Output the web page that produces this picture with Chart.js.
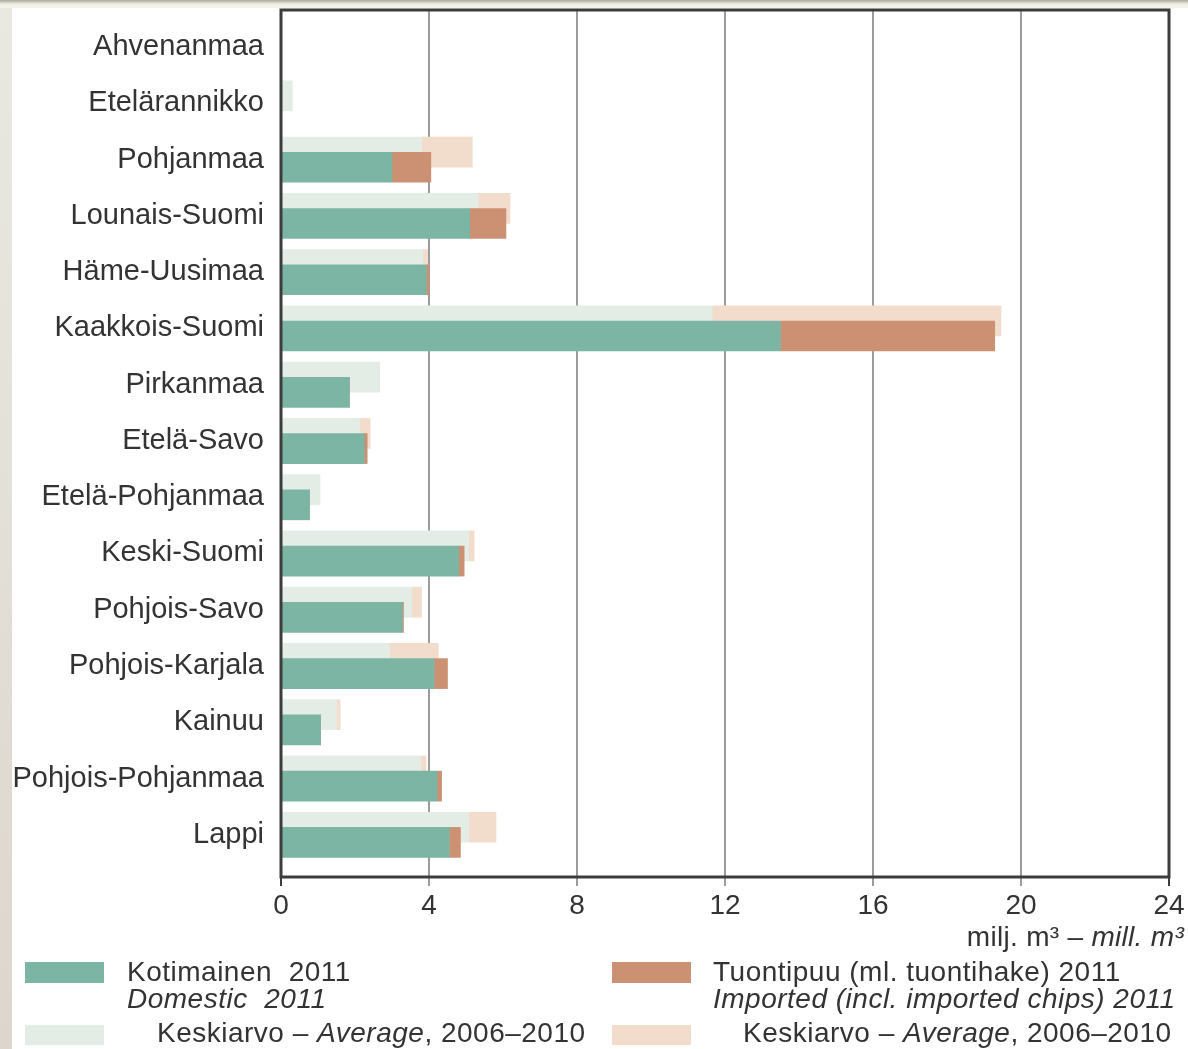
<!DOCTYPE html>
<html>
<head>
<meta charset="utf-8">
<script src="https://cdn.jsdelivr.net/npm/chart.js@4/dist/chart.umd.min.js"></script>
<style>
	body { margin: 0; background: #fff; font-family: "Liberation Sans", Arial, sans-serif; color: #333; }
	#wrap { position: relative; width: 1188px; height: 1049px; overflow: hidden; background: #fff; }
	#leftstrip { position: absolute; left: 0; top: 0; width: 12px; height: 1049px; background: linear-gradient(#e9e9e1, #ddd6cc); }
	#topstrip { position: absolute; left: 0; top: 0; width: 1188px; height: 8px; background: linear-gradient(#a9a898, #eeeee4 50%, #f3f3ea); }
	#chart { position: absolute; left: 0; top: -30px; }
	.sw { position: absolute; width: 79px; height: 21px; }
	.txt { position: absolute; font-size: 28px; letter-spacing: 0.5px; line-height: 27px; white-space: pre; color: #333; }
	#unit { position: absolute; right: 4px; top: 923px; font-size: 28px; letter-spacing: 0.3px; line-height: 28px; color: #333; white-space: pre; }
</style>
</head>
<body>
<div id="wrap">
	<div id="leftstrip"></div>
	<div id="topstrip"></div>
	<canvas id="chart" width="1188" height="1000"></canvas>
	<div id="unit">milj. m³ – <i>mill. m³</i></div>

	<div class="sw" style="left:25px; top:962px; background:#7db5a5"></div>
	<div class="txt" style="left:127px; top:958px">Kotimainen  2011<br><i>Domestic  2011</i></div>
	<div class="sw" style="left:25px; top:1025px; height:20px; background:#e3ede6"></div>
	<div class="txt" style="left:157px; top:1019px">Keskiarvo – <i>Average</i>, 2006–2010</div>

	<div class="sw" style="left:612px; top:962px; background:#cc9173"></div>
	<div class="txt" style="left:713px; top:958px">Tuontipuu (ml. tuontihake) 2011<br><i>Imported (incl. imported chips) 2011</i></div>
	<div class="sw" style="left:612px; top:1025px; height:20px; background:#f2dccc"></div>
	<div class="txt" style="left:743px; top:1019px">Keskiarvo – <i>Average</i>, 2006–2010</div>
</div>
<script>
var regions = ['Ahvenanmaa', 'Etelärannikko', 'Pohjanmaa', 'Lounais-Suomi', 'Häme-Uusimaa', 'Kaakkois-Suomi',
	'Pirkanmaa', 'Etelä-Savo', 'Etelä-Pohjanmaa', 'Keski-Suomi', 'Pohjois-Savo', 'Pohjois-Karjala',
	'Kainuu', 'Pohjois-Pohjanmaa', 'Lappi'];

// milj. m3
var domestic2011 = [0, 0, 3.0, 5.1, 3.93, 13.5, 1.85, 2.25, 0.77, 4.8, 3.28, 4.14, 1.07, 4.22, 4.55];
var imported2011 = [0, 0, 1.05, 0.98, 0.07, 5.79, 0, 0.08, 0, 0.15, 0.03, 0.36, 0, 0.12, 0.3];
var domesticAvg = [0, 0.3, 3.8, 5.33, 3.83, 11.65, 2.66, 2.12, 1.05, 5.07, 3.53, 2.93, 1.5, 3.78, 5.08];
var importedAvg = [0, 0, 1.37, 0.86, 0.13, 7.81, 0, 0.29, 0, 0.15, 0.27, 1.32, 0.1, 0.14, 0.73];

var xTicks = [0, 4, 8, 12, 16, 20, 24];

// average bar sits a bit above the label, 2011 bar a bit below (they overlap)
var shift = 0.135;
function rows(values, offset) {
	return values.map(function (v, i) { return { x: v, y: i + offset }; });
}

var frame = {
	id: 'frame',
	afterDatasetsDraw: function (chart) {
		var a = chart.chartArea;
		var ctx = chart.ctx;
		ctx.save();
		ctx.strokeStyle = '#3c3c3c';
		ctx.lineWidth = 3;
		ctx.strokeRect(a.left, a.top, a.right - a.left, a.bottom - a.top);
		ctx.restore();
	}
};

var ctx = document.getElementById('chart').getContext('2d');
var chart = new Chart(ctx, {
	type: 'bar',
	data: {
		datasets: [{
			label: 'Kotimainen 2011',
			data: rows(domestic2011, shift),
			backgroundColor: '#7db5a5',
			stack: '2011'
		}, {
			label: 'Tuontipuu (ml. tuontihake) 2011',
			data: rows(imported2011, shift),
			backgroundColor: '#cc9173',
			stack: '2011'
		}, {
			label: 'Keskiarvo 2006–2010',
			data: rows(domesticAvg, -shift),
			backgroundColor: '#e3ede6',
			stack: 'avg'
		}, {
			label: 'Keskiarvo 2006–2010 (tuonti)',
			data: rows(importedAvg, -shift),
			backgroundColor: '#f2dccc',
			stack: 'avg'
		}]
	},
	options: {
		indexAxis: 'y',
		responsive: false,
		animation: false,
		datasets: {
			bar: {
				grouped: false,
				barThickness: 30,
				borderWidth: 0
			}
		},
		layout: {
			padding: { top: 40, right: 19, left: 0, bottom: 0 }
		},
		plugins: {
			legend: { display: false },
			tooltip: { enabled: false }
		},
		scales: {
			x: {
				type: 'linear',
				stacked: true,
				bounds: 'data',
				offset: false,
				min: 0,
				max: 24,
				afterBuildTicks: function (scale) {
					scale.ticks = xTicks.map(function (v) { return { value: v }; });
				},
				afterFit: function (scale) {
					scale.height = 93;
				},
				grid: {
					offset: false,
					color: function (c) {
						return (c.tick && (c.tick.value === 0 || c.tick.value === 24)) ? '#3c3c3c' : '#9c9c9c';
					},
					lineWidth: 2,
					tickLength: 9
				},
				border: { display: false },
				ticks: {
					color: '#333',
					padding: 3,
					font: { family: '"Liberation Sans", Arial, sans-serif', size: 28 }
				}
			},
			y: {
				type: 'linear',
				stacked: true,
				reverse: true,
				bounds: 'data',
				offset: false,
				min: -0.66,
				max: 14.75,
				afterBuildTicks: function (scale) {
					scale.ticks = regions.map(function (r, i) { return { value: i }; });
				},
				afterFit: function (scale) {
					scale.width = 281;
				},
				grid: { display: false, drawTicks: false, offset: false },
				border: { display: false },
				ticks: {
					autoSkip: false,
					padding: 17,
					color: '#333',
					font: { family: '"Liberation Sans", Arial, sans-serif', size: 29 },
					callback: function (value) {
						return regions[value];
					}
				}
			}
		}
	},
	plugins: [frame]
});
</script>
</body>
</html>
